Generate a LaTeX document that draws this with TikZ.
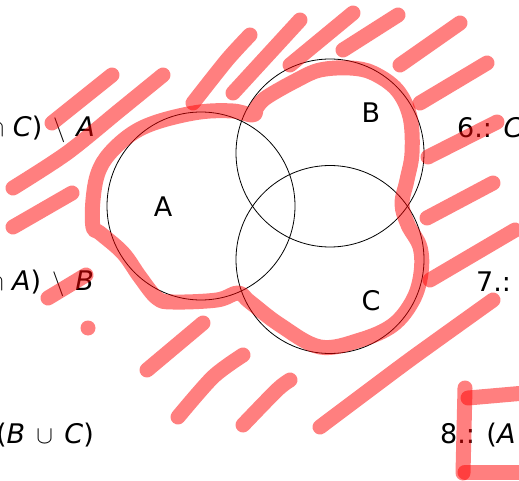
\documentclass[tikz,border=0pt]{standalone}
\usepackage{fontspec}
\setmainfont{DejaVu Sans}
\begin{document}
\begin{tikzpicture}[x=1pt,y=-1pt,
  setc/.style={draw=black,line width=0.8pt,circle,minimum size=188pt,inner sep=0pt},
  lbl/.style={font=\fontsize{27}{32}\selectfont,inner sep=0pt},
  pen/.style={draw=red,draw opacity=0.5,line width=15pt,line cap=round,line join=round}]
\useasboundingbox (0,0) rectangle (519,481);
\clip (0,0) rectangle (519,481);
% sets
\node[setc] (cA) at (201,206) {};
\node[setc] (cB) at (330,153) {};
\node[setc] (cC) at (330,259.5) {};
\node[lbl] (lA) at (163,207) {A};
\node[lbl] (lB) at (371,113) {B};
\node[lbl] (lC) at (371,301) {C};
% exercise texts (cut by the frame)
\node[lbl,anchor=base east] (t3) at (95,137) {$\cap$ \textit{C})\hspace{0.4em}$\setminus$\hspace{0.4em}\textit{A}};
\node[lbl,anchor=base east] (t4) at (94,290) {$\cap$ \textit{A})\hspace{0.4em}$\setminus$\hspace{0.4em}\textit{B}};
\node[lbl,anchor=base east] (t5) at (94,443) {(\textit{B}\hspace{0.42em}$\cup$\hspace{0.42em}\textit{C})};
\node[lbl,anchor=base west] (t6) at (457,138) {6.: \textit{C}};
\node[lbl,anchor=base west] (t7) at (476,291) {7.: \textit{A}};
\node[lbl,anchor=base west] (t8) at (440,443) {8.: (\textit{A}};
% red freehand marks
\draw[pen] plot[smooth cycle,tension=0.6] coordinates {
 (253,115) (233,111) (200,112) (160,121) (133,133) (110,153) (98,173) (93,200)
 (93,227) (100,233) (123,253) (140,277) (157,298) (173,302) (217,300) (238,293)
 (250,302) (280,325) (320,347) (360,340) (393,325) (413,300) (421,273) (420,247)
 (408,225) (402,204) (407,180) (412,153) (410,117) (397,90) (373,73) (350,68)
 (320,70) (297,80) (267,97) (257,107)};
\draw[pen] (52,123) -- (112,75);
\draw[pen] plot[smooth] coordinates {(13,188) (67,153) (120,110) (163,75)};
\draw[pen] (13,227) -- (72,193);
\draw[pen] (48,298) -- (86,275);
\fill[red,fill opacity=0.5] (88,328) circle (7.5);
\draw[pen] plot[smooth] coordinates {(193,103) (227,60) (250,35)};
\draw[pen] (233,93) -- (300,20);
\draw[pen] (290,65) -- (353,13);
\draw[pen] (343,50) -- (398,15);
\draw[pen] (400,65) -- (460,23);
\draw[pen] (420,103) -- (487,63);
\draw[pen] (428,157) -- (497,122);
\draw[pen] (427,218) -- (493,183);
\draw[pen] (430,280) -- (515,230);
\draw[pen] plot[smooth] coordinates {(320,427) (400,367) (433,343) (493,300)};
\draw[pen] (147,370) -- (203,323);
\draw[pen] plot[smooth] coordinates {(178,417) (213,377) (243,355)};
\draw[pen] plot[smooth] coordinates {(243,425) (277,390) (290,380)};
\draw[pen] (465,388) -- (463,473);
\draw[pen] (468,398) -- (525,393);
\draw[pen] (465,472) -- (525,472);
\end{tikzpicture}
\end{document}
